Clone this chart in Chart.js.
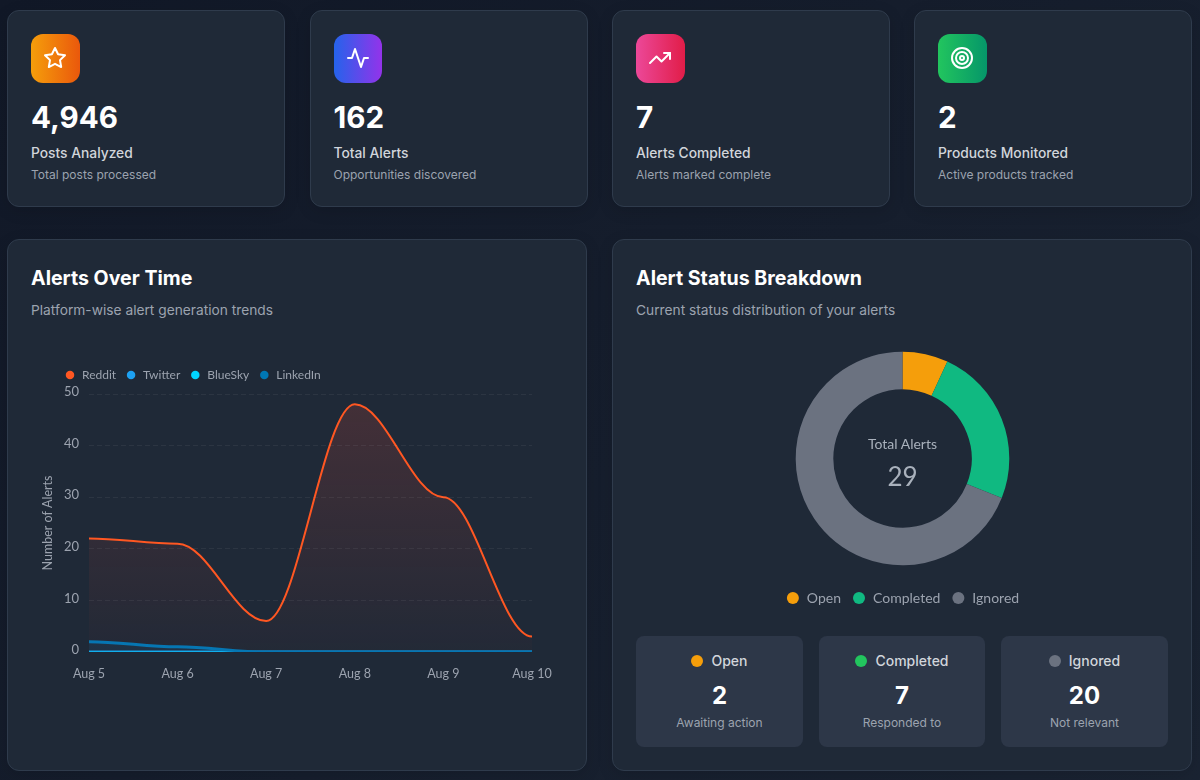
<!DOCTYPE html>
<html><head><meta charset="utf-8">
<script src="https://cdn.jsdelivr.net/npm/chart.js@4/dist/chart.umd.min.js"></script>
<style>
*{box-sizing:border-box;margin:0;padding:0}
html,body{width:1200px;height:780px;overflow:hidden;background:linear-gradient(135deg,#111827,#1a2332);font-family:Inter,sans-serif}
.card{position:absolute;background:#1f2937;border:1px solid #2f3b4c;border-radius:12px;box-shadow:0 4px 16px rgba(0,0,0,.12)}
.kpi{top:10px;width:278px;height:197px}
.icon{position:absolute;left:23px;top:23px;width:48.5px;height:48.5px;border-radius:12px;display:flex;align-items:center;justify-content:center}
.icon svg{width:24px;height:24px;fill:none;stroke:#fff;stroke-width:2;stroke-linecap:round;stroke-linejoin:round}
.num{position:absolute;left:23px;top:87px;font-size:29.6px;line-height:38px;font-weight:700;color:#fff}
.lab{position:absolute;left:23px;top:132px;font-size:13.8px;line-height:20px;font-weight:500;color:#d1d5db}
.sub{position:absolute;left:23px;top:156px;font-size:12px;line-height:16px;color:#9ca3af}
.big{top:239px;width:580px;height:532px}
h2{position:absolute;left:23px;top:25px;font-size:19.6px;line-height:26px;font-weight:700;color:#fff}
.desc{position:absolute;left:23px;top:60px;font-size:13.75px;line-height:20px;color:#9ca3af}
canvas{position:absolute;display:block}
.st{position:absolute;top:636px;height:111px;background:#2d3748;border-radius:8px;text-align:center}
.st .h{position:absolute;left:0;right:0;top:15px;font-size:14px;line-height:20px;font-weight:500;color:#d1d5db;display:flex;justify-content:center;align-items:center;gap:8px}
.st i{width:12px;height:12px;border-radius:50%;display:block}
.st .v{position:absolute;left:0;right:0;top:45px;font-size:24px;line-height:30px;font-weight:700;color:#fff}
.st .d{position:absolute;left:0;right:0;top:79px;font-size:12px;line-height:16px;color:#9ca3af}
.center{position:absolute;left:802px;width:201px;text-align:center;font-family:Lato,sans-serif}
</style></head><body>
<div class="card kpi" style="left:7px"><div class="icon" style="background:linear-gradient(90deg,#f59e0b,#ea580c)"><svg viewBox="0 0 24 24"><polygon points="12 2 15.09 8.26 22 9.27 17 14.14 18.18 21.02 12 17.77 5.82 21.02 7 14.14 2 9.27 8.91 8.26 12 2"/></svg></div><div class="num">4,946</div><div class="lab">Posts Analyzed</div><div class="sub">Total posts processed</div></div>
<div class="card kpi" style="left:309.5px"><div class="icon" style="background:linear-gradient(90deg,#2563eb,#9333ea)"><svg viewBox="0 0 24 24"><polyline points="2 12 6 12 9 3 15 21 18 12 22 12"/></svg></div><div class="num">162</div><div class="lab">Total Alerts</div><div class="sub">Opportunities discovered</div></div>
<div class="card kpi" style="left:612px"><div class="icon" style="background:linear-gradient(90deg,#ec4899,#e11d48)"><svg viewBox="0 0 24 24"><polyline points="22 7 13.5 15.5 8.5 10.5 2 17"/><polyline points="16 7 22 7 22 13"/></svg></div><div class="num">7</div><div class="lab">Alerts Completed</div><div class="sub">Alerts marked complete</div></div>
<div class="card kpi" style="left:914px"><div class="icon" style="background:linear-gradient(90deg,#22c55e,#059669)"><svg viewBox="0 0 24 24"><circle cx="12" cy="12" r="10"/><circle cx="12" cy="12" r="6"/><circle cx="12" cy="12" r="2"/></svg></div><div class="num">2</div><div class="lab">Products Monitored</div><div class="sub">Active products tracked</div></div>

<div class="card big" style="left:7px"><h2>Alerts Over Time</h2><div class="desc">Platform-wise alert generation trends</div></div>
<div class="card big" style="left:612px"><h2>Alert Status Breakdown</h2><div class="desc">Current status distribution of your alerts</div></div>

<canvas id="line" style="left:40px;top:360px" width="523" height="345"></canvas>
<canvas id="donut" style="left:636px;top:336.5px" width="533" height="278"></canvas>
<div class="center" style="top:435px;font-size:14px;line-height:18px;color:#a9b1bc">Total Alerts</div>
<div class="center" style="top:460px;font-size:26px;line-height:32px;color:#a9b1bc">29</div>

<div class="st" style="left:636px;width:167px"><div class="h"><i style="background:#f59e0b"></i>Open</div><div class="v">2</div><div class="d">Awaiting action</div></div>
<div class="st" style="left:819px;width:166px"><div class="h"><i style="background:#22c55e"></i>Completed</div><div class="v">7</div><div class="d">Responded to</div></div>
<div class="st" style="left:1001px;width:167px"><div class="h"><i style="background:#6b7280"></i>Ignored</div><div class="v">20</div><div class="d">Not relevant</div></div>

<script>
const days = ['Aug 5','Aug 6','Aug 7','Aug 8','Aug 9','Aug 10'];
const reddit = [22,21,6,48,30,3];
const twitter = [0,0,0,0,0,0];
const bluesky = [0,0,0,0,0,0];
const linkedin = [2,1,0,0,0,0];
const statusLabels = ['Open','Completed','Ignored'];
const statusValues = [2,7,20];
const statusColors = ['#f59e0b','#10b981','#6b7280'];

Chart.defaults.font.family = 'Lato, sans-serif';
Chart.defaults.color = '#9ca3af';
Chart.defaults.animation = false;

function fade(rgb,a){
  return c=>{
    const area=c.chart.chartArea; if(!area) return 'transparent';
    const g=c.chart.ctx.createLinearGradient(0,area.top,0,area.bottom);
    g.addColorStop(0,`rgba(${rgb},${a})`); g.addColorStop(1,`rgba(${rgb},0.02)`);
    return g;
  };
}
function series(label,data,color,extra){
  return Object.assign({label,data,borderColor:color,backgroundColor:color,borderWidth:2,pointRadius:0,
    tension:0.4,fill:true},extra||{});
}
const legendShift={id:'legendShift',
  beforeInit(chart){const f=chart.legend.fit;chart.legend.fit=function(){f.call(this);this.height+=3;};},
  afterLayout(chart){chart.legend.left+=15;}};
// horizontal tangents at every data point, handle length 0.35 of the spacing
const HANDLE=0.35;
const bump={id:'bump',afterDatasetsUpdate(chart){
  chart.getSortedVisibleDatasetMetas().forEach(meta=>{
    meta.dataset.updateControlPoints(chart.chartArea,'x');
    const pts=meta.dataset.points;
    pts.forEach((p,i)=>{
      const prev=pts[i-1],next=pts[i+1];
      p.cp1x=prev?p.x-(p.x-prev.x)*HANDLE:p.x; p.cp1y=p.y;
      p.cp2x=next?p.x+(next.x-p.x)*HANDLE:p.x; p.cp2y=p.y;
    });
  });
}};

new Chart(document.getElementById('line'),{
  type:'line',
  data:{labels:days,datasets:[
    series('Reddit',reddit,'#ff5722',{backgroundColor:fade('240,80,60',0.18),order:0}),
    series('Twitter',twitter,'#1da1f2',{backgroundColor:'rgba(29,161,242,.05)',borderWidth:3,order:3}),
    series('BlueSky',bluesky,'#00d4ff',{backgroundColor:'rgba(0,212,255,.05)',borderWidth:1.2,order:2}),
    series('LinkedIn',linkedin,'#0077b5',{backgroundColor:'rgba(0,119,181,.12)',borderWidth:3,order:1})
  ]},
  options:{responsive:false,
    layout:{padding:{right:31,bottom:18}},
    plugins:{legend:{position:'top',align:'start',labels:{usePointStyle:true,pointStyle:'circle',boxWidth:12,boxHeight:6,padding:9,color:'#9ca3af',font:{size:12},
        sort:(a,b)=>a.datasetIndex-b.datasetIndex,
        generateLabels(chart){return Chart.defaults.plugins.legend.labels.generateLabels(chart).map(l=>Object.assign(l,{fillStyle:l.strokeStyle,lineWidth:0,lineDash:[]}));}
      }},tooltip:{enabled:false}},
    scales:{
      x:{grid:{display:false},border:{display:false},ticks:{padding:6,font:{size:12.5},color:'#9ca3af',maxRotation:0}},
      y:{min:0,max:50,afterFit:s=>{s.width=49;},
        grid:{z:1,color:c=>c.tick&&c.tick.value===0?'rgba(30,40,54,1)':'rgba(255,255,255,.06)',drawTicks:false},
        border:{display:false,dash:[5,3]},
        title:{display:true,text:'Number of Alerts',color:'#9ca3af',font:{size:12.5},padding:{top:0,bottom:0}},
        ticks:{stepSize:10,padding:10,labelOffset:-2,font:{size:13},color:'#9ca3af'}}
    }},
  plugins:[legendShift,bump]
});

new Chart(document.getElementById('donut'),{
  type:'doughnut',
  data:{labels:statusLabels,datasets:[{data:statusValues,backgroundColor:statusColors,borderWidth:0,radius:106.8,cutout:'64.8%'}]},
  options:{responsive:false,
    plugins:{legend:{position:'bottom',labels:{usePointStyle:true,pointStyle:'circle',boxWidth:14,boxHeight:8.5,padding:11,color:'#9ca3af',font:{size:14}}},tooltip:{enabled:false}}}
});
</script>
</body></html>
